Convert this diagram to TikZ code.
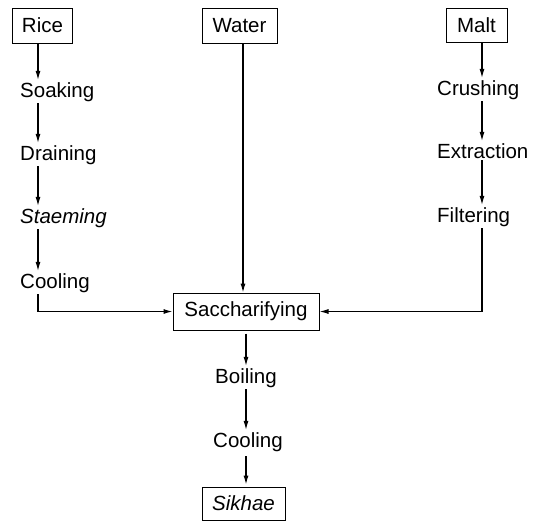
\documentclass[tikz,border=0pt]{standalone}
\usepackage{fontspec}
\setmainfont{Liberation Sans}
\usetikzlibrary{arrows.meta}
\begin{document}
\begin{tikzpicture}[x=1pt,y=-1pt,
  every node/.style={font=\fontsize{20.5}{24}\selectfont},
  box/.style={draw,line width=1pt,inner sep=0pt,align=center},
  lbl/.style={inner sep=2pt,anchor=base west},
  clbl/.style={inner sep=2pt,anchor=base},
  arr/.style={line width=1.1pt,-{Latex[length=9pt,width=5pt]}},
  ln/.style={line width=1.1pt}]
\useasboundingbox (0,0) rectangle (549,525);
% boxes
\node[box,minimum width=60pt,minimum height=35pt] (rice) at (42.5,25.5) {Rice};
\node[box,minimum width=75pt,minimum height=35pt] (water) at (239.5,25.5) {Water};
\node[box,minimum width=61pt,minimum height=34pt] (malt) at (476.5,25) {Malt};
\node[box,minimum width=146pt,minimum height=37pt] (sac) at (246,311.5) {Saccharifying};
\node[box,minimum width=83pt,minimum height=33pt] (sik) at (243.5,503.5) {\itshape Sikhae};
% left column
\node[lbl] (soak) at (18,97) {Soaking};
\node[lbl] (drain) at (18,160) {Draining};
\node[lbl] (steam) at (18,223) {\itshape Staeming};
\node[lbl] (cool1) at (18,288) {Cooling};
% right column
\node[lbl] (crush) at (435,95) {Crushing};
\node[lbl] (extr) at (435,158) {Extraction};
\node[lbl] (filt) at (435,222) {Filtering};
% centre column
\node[clbl] (boil) at (246,383) {Boiling};
\node[clbl] (cool2) at (248,447) {Cooling};
% guide coordinates
\coordinate (lx) at (38,0);
\coordinate (rx) at (482,0);
\coordinate (wx) at (243,0);
\coordinate (cx) at (246,0);
% left connectors
\draw[arr] (rice.south -| lx) -- (soak.north -| lx);
\draw[arr] (soak.south -| lx) -- (drain.north -| lx);
\draw[arr] (drain.south -| lx) -- (steam.north -| lx);
\draw[arr] (steam.south -| lx) -- (cool1.north -| lx);
\draw[arr] (cool1.south -| lx) -- (lx |- sac.west) -- (sac.west);
% right connectors
\draw[arr] (malt.south -| rx) -- (crush.north -| rx);
\draw[arr] (crush.south -| rx) -- (extr.north -| rx);
\draw[arr] (extr.south -| rx) -- (filt.north -| rx);
\draw[arr] (filt.south -| rx) -- (rx |- sac.east) -- (sac.east);
% water
\draw[arr] (water.south -| wx) -- (sac.north -| wx);
% centre connectors
\draw[arr,shorten <=3pt] (sac.south -| cx) -- (boil.north -| cx);
\draw[arr] (boil.south -| cx) -- (cool2.north -| cx);
\draw[arr,shorten <=3pt,shorten >=2pt] (cool2.south -| cx) -- (sik.north -| cx);
\end{tikzpicture}
\end{document}
